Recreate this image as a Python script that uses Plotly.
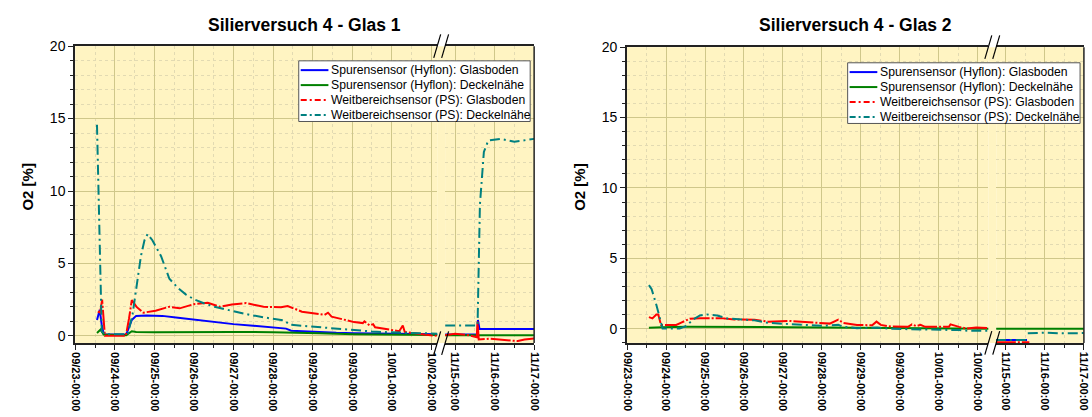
import pandas as pd
import plotly.graph_objects as go

W, H = 1092, 417

SERIES_NAMES = ["Spurensensor (Hyflon): Glasboden", "Spurensensor (Hyflon): Deckelnähe",
                "Weitbereichsensor (PS): Glasboden", "Weitbereichsensor (PS): Deckelnähe"]
COLORS = ["#0000FF", "#008000", "#FF0000", "#008080"]
DASHES = ["solid", "solid", "20px,2px,2px,2px", "10px,4px,2px,4px"]
LEGEND_DASHES = ["solid", "solid", "6px,3px,2px,3px", "6px,3px,2px,3px"]
TITLES = ["Silierversuch 4 - Glas 1", "Silierversuch 4 - Glas 2"]
Y_TITLE = "O2 [%]"
START1 = "2015-09-23"   # first axis segment starts 09/23-00:00
START2 = "2015-11-15"   # second axis segment reference 11/15-00:00

# ---------------- Glas 1 (days after START1 / START2) ----------------
g1_blue_d1 = [0.55, 0.62, 0.67, 0.72, 1.0, 1.29, 1.43, 1.54, 1.8, 2.2, 2.6, 3.0, 3.5, 4.0, 4.5, 5.0,
              5.33, 5.46, 5.8, 6.17, 6.6, 7.05, 7.5, 7.93, 8.5, 9.0, 9.25]
g1_blue_v1 = [1.1, 1.8, 0.77, 0.12, 0.1, 0.1, 1.1, 1.38, 1.4, 1.38, 1.25, 1.11, 0.96, 0.81, 0.7, 0.59,
              0.5, 0.36, 0.3, 0.25, 0.21, 0.18, 0.16, 0.14, 0.12, 0.11, 0.11]
g1_green_d1 = [0.55, 0.64, 0.72, 1.0, 1.29, 1.43, 1.54, 2.0, 3.0, 4.0, 5.0, 5.3, 6.17, 7.05, 7.93, 8.8, 9.25]
g1_green_v1 = [0.2, 0.43, 0.09, 0.05, 0.05, 0.32, 0.27, 0.25, 0.27, 0.27, 0.25, 0.24, 0.18, 0.12, 0.07, 0.05, 0.05]
g1_red_d1 = [0.57, 0.63, 0.68, 0.75, 1.0, 1.28, 1.36, 1.43, 1.55, 1.72, 2.03, 2.38, 2.64, 3.0, 3.35, 3.66,
             3.96, 4.32, 4.76, 5.2, 5.37, 5.73, 6.3, 6.39, 6.48, 7.05, 7.27, 7.31, 7.44, 7.53, 7.58, 7.93,
             8.19, 8.28, 8.33, 8.81, 9.25]
g1_red_v1 = [1.67, 1.6, 2.5, 0.0, 0.0, 0.0, 1.2, 2.47, 2.0, 1.6, 1.74, 2.01, 1.9, 2.19, 2.28, 2.01,
             2.17, 2.26, 2.01, 1.97, 2.06, 1.67, 1.45, 1.6, 1.33, 0.95, 0.88, 1.0, 0.72, 0.81, 0.59, 0.43,
             0.32, 0.72, 0.27, 0.09, -0.02]
g1_teal_d1 = [0.55, 0.67, 0.75, 1.0, 1.33, 1.45, 1.55, 1.66, 1.75, 1.83, 1.95, 2.17, 2.38, 2.6, 2.8, 3.0,
              3.25, 3.52, 4.0, 4.41, 4.9, 5.29, 5.42, 5.8, 6.17, 6.6, 7.05, 7.5, 7.93, 8.4, 8.81, 9.3]
g1_teal_v1 = [14.57, 0.3, 0.12, 0.12, 0.12, 1.5, 3.5, 5.5, 6.6, 7.03, 6.6, 5.5, 3.94, 3.3, 2.85, 2.53,
              2.25, 2.01, 1.7, 1.45, 1.22, 1.06, 0.77, 0.68, 0.59, 0.47, 0.36, 0.3, 0.25, 0.2, 0.14, 0.14]

g1_blue_d2 = [-0.25, 0.57, 0.58, 0.62, 1.0, 1.5, 2.0]
g1_blue_v2 = [0.09, 0.09, 1.1, 0.47, 0.47, 0.47, 0.47]
g1_green_d2 = [-0.25, 0.5, 1.0, 2.0]
g1_green_v2 = [0.05, 0.05, 0.05, 0.05]
g1_red_d2 = [-0.25, 0.0, 0.35, 0.55, 0.57, 0.6, 0.88, 1.32, 1.59, 1.76, 2.0]
g1_red_v2 = [0.05, 0.14, 0.05, -0.09, 1.0, -0.25, -0.2, -0.32, -0.36, -0.25, -0.18]
g1_teal_d2 = [-0.25, 0.57, 0.63, 0.73, 0.84, 1.15, 1.5, 1.76, 2.0]
g1_teal_v2 = [0.72, 0.72, 9.07, 12.7, 13.48, 13.6, 13.4, 13.5, 13.6]

# ---------------- Glas 2 ----------------
g2_blue_d1 = []
g2_blue_v1 = []
g2_green_d1 = [0.56, 0.91, 1.52, 2.5, 4.15, 5.9, 7.65, 9.3]
g2_green_v1 = [0.07, 0.12, 0.14, 0.14, 0.12, 0.07, 0.02, 0.0]
g2_red_d1 = [0.56, 0.65, 0.75, 0.8, 0.87, 0.93, 1.26, 1.39, 1.61, 1.87, 2.4, 2.75, 3.27, 3.62, 4.15, 4.67,
             5.2, 5.42, 5.55, 5.9, 6.29, 6.4, 6.51, 6.77, 7.21, 7.31, 7.42, 7.53, 7.65, 8.26, 8.3, 8.52,
             8.7, 8.96, 9.3]
g2_red_v1 = [0.83, 0.74, 1.02, 1.02, 0.28, 0.28, 0.28, 0.44, 0.72, 0.76, 0.76, 0.67, 0.65, 0.51, 0.56, 0.46,
             0.37, 0.65, 0.42, 0.28, 0.25, 0.51, 0.28, 0.16, 0.14, 0.32, 0.19, 0.28, 0.14, 0.14, 0.32, 0.14,
             0.02, 0.09, 0.05]
g2_teal_d1 = [0.56, 0.63, 0.75, 0.84, 0.91, 1.35, 1.52, 1.7, 1.87, 2.05, 2.31, 2.57, 2.92, 3.27, 3.62, 4.15,
              5.02, 5.42, 5.55, 5.9, 6.42, 6.77, 7.65, 8.52, 8.78, 9.3]
g2_teal_v1 = [3.1, 2.82, 1.71, 0.79, 0.02, 0.03, 0.21, 0.67, 0.95, 1.02, 0.95, 0.74, 0.65, 0.6, 0.42, 0.32,
              0.21, 0.28, 0.14, 0.05, 0.09, 0.0, -0.02, -0.09, -0.14, -0.14]

g2_blue_d2 = [-0.26, 0.54]
g2_blue_v2 = [-0.79, -0.79]
g2_green_d2 = [-0.26, 2.0]
g2_green_v2 = [0.0, 0.0]
g2_red_d2 = [-0.26, 0.6]
g2_red_v2 = [-0.95, -0.95]
g2_teal_d2 = [-0.26, 0.54, None, 0.56, 1.0, 1.44, 2.0]
g2_teal_v2 = [-0.79, -0.79, None, -0.32, -0.28, -0.32, -0.3]

PANELS = [
    dict(seg1=[(g1_blue_d1, g1_blue_v1), (g1_green_d1, g1_green_v1), (g1_red_d1, g1_red_v1), (g1_teal_d1, g1_teal_v1)],
         seg2=[(g1_blue_d2, g1_blue_v2), (g1_green_d2, g1_green_v2), (g1_red_d2, g1_red_v2), (g1_teal_d2, g1_teal_v2)],
         ymin=-0.5),
    dict(seg1=[(g2_blue_d1, g2_blue_v1), (g2_green_d1, g2_green_v1), (g2_red_d1, g2_red_v1), (g2_teal_d1, g2_teal_v1)],
         seg2=[(g2_blue_d2, g2_blue_v2), (g2_green_d2, g2_green_v2), (g2_red_d2, g2_red_v2), (g2_teal_d2, g2_teal_v2)],
         ymin=-1.0),
]

# ---------------- layout geometry (pixels) ----------------
GEOM = [
    dict(x0=70.0, ppd=40.0, end1=9.15, gap=8.0, start2=-0.25, end2=2.0, top=39.0, bottom=342.5,
         ytitle_x=22, leg_x0=296, leg_x1=530, leg_top=54),
    dict(x0=628.0, ppd=39.4, end1=9.27, gap=8.0, start2=-0.25, end2=2.0, top=40.0, bottom=342.3,
         ytitle_x=580, leg_x0=851, leg_x1=1086, leg_top=56),
]

BG = "#FFF4C2"
GRID_MAJOR = "#CFC78A"
GRID_MINOR = "#E2DAB2"
AXIS = "#222222"
FONT = "Liberation Sans, Arial, sans-serif"


def px(x):
    return x / W


def py(y):
    return 1 - y / H


def to_dates(base, days):
    b = pd.Timestamp(base)
    return [None if d is None else b + pd.Timedelta(days=d) for d in days]


fig = go.Figure()
layout = dict(width=W, height=H, margin=dict(l=0, r=0, t=0, b=0), paper_bgcolor="white",
              plot_bgcolor=BG, font=dict(family=FONT, color="black"), showlegend=False)
shapes, annotations = [], []

for p, (panel, g) in enumerate(zip(PANELS, GEOM)):
    xa1, xa2 = 2 * p + 1, 2 * p + 2
    ya = p + 1
    xn1 = "x" if xa1 == 1 else f"x{xa1}"
    xn2 = f"x{xa2}"
    yn = "y" if ya == 1 else f"y{ya}"
    ydom = [py(g["bottom"]), py(g["top"])]
    b1 = g["x0"] + g["end1"] * g["ppd"]
    b2 = b1 + g["gap"]
    x1 = b2 + (g["end2"] - g["start2"]) * g["ppd"]

    common_x = dict(type="date", dtick=86400000, tickformat="%m/%d-%H:%M", tickangle=90,
                    ticks="outside", ticklen=5, tickwidth=1, tickcolor=AXIS,
                    showline=True, linecolor=AXIS, linewidth=1.5, mirror=True,
                    showgrid=True, gridcolor=GRID_MAJOR, gridwidth=1,
                    minor=dict(dtick=43200000, ticks="outside", ticklen=3, tickcolor=AXIS,
                               showgrid=True, gridcolor=GRID_MINOR, griddash="dot", gridwidth=1),
                    tickfont=dict(family=FONT, size=11, color="black", weight="bold"),
                    anchor=yn, zeroline=False)
    s1 = pd.Timestamp(START1)
    s2 = pd.Timestamp(START2)
    layout["xaxis" if xa1 == 1 else f"xaxis{xa1}"] = dict(
        common_x, domain=[px(g["x0"]), px(b1)], tick0=START1,
        range=[s1, s1 + pd.Timedelta(days=g["end1"])])
    layout[f"xaxis{xa2}"] = dict(
        common_x, domain=[px(b2), min(1.0, px(x1))], tick0=START2,
        range=[s2 + pd.Timedelta(days=g["start2"]), s2 + pd.Timedelta(days=g["end2"] + 0.001)])
    layout["yaxis" if ya == 1 else f"yaxis{ya}"] = dict(
        domain=ydom, anchor=xn1, range=[panel["ymin"], 20], dtick=5, tick0=0,
        ticks="outside", ticklen=5, tickcolor=AXIS, showline=True, linecolor=AXIS, linewidth=2,
        showgrid=True, gridcolor=GRID_MAJOR, gridwidth=1, zeroline=True, zerolinecolor=GRID_MAJOR,
        zerolinewidth=1,
        minor=dict(dtick=1, ticks="outside", ticklen=3, tickcolor=AXIS, showgrid=True,
                   gridcolor=GRID_MINOR, griddash="dot", gridwidth=1),
        tickfont=dict(family=FONT, size=14, color="black"))

    for i in range(4):
        d1, v1 = panel["seg1"][i]
        d2, v2 = panel["seg2"][i]
        line = dict(color=COLORS[i], width=2, dash=DASHES[i])
        if len(d1) > 0:
            fig.add_trace(go.Scatter(x=to_dates(START1, d1), y=v1, mode="lines", line=line,
                                     name=SERIES_NAMES[i], xaxis=xn1, yaxis=yn, connectgaps=False))
        fig.add_trace(go.Scatter(x=to_dates(START2, d2), y=v2, mode="lines", line=line,
                                 name=SERIES_NAMES[i], xaxis=xn2, yaxis=yn, connectgaps=False))

    # legend box (drawn inside the plot, top right)
    lx0, lx1, lt = g["leg_x0"], g["leg_x1"], g["leg_top"]
    shapes.append(dict(type="rect", xref="paper", yref="paper", x0=px(lx0), x1=px(lx1),
                       y0=py(lt + 62), y1=py(lt), fillcolor="white",
                       line=dict(color="#555555", width=1)))
    for i, name in enumerate(SERIES_NAMES):
        ry = lt + 9.5 + 15.3 * i
        shapes.append(dict(type="line", xref="paper", yref="paper", x0=px(lx0 + 2), x1=px(lx0 + 30),
                           y0=py(ry), y1=py(ry), line=dict(color=COLORS[i], width=2, dash=LEGEND_DASHES[i])))
        annotations.append(dict(text=name, xref="paper", yref="paper", x=px(lx0 + 31), y=py(ry),
                                xanchor="left", yanchor="middle", showarrow=False,
                                font=dict(family=FONT, size=12.2, color="black")))

    # background fill across the axis break
    shapes.append(dict(type="rect", xref="paper", yref="paper", x0=px(b1), x1=px(b2),
                       y0=ydom[0], y1=ydom[1], fillcolor=BG, line=dict(width=0), layer="below"))
    # right frame line
    xr = min(x1, W - 1)
    shapes.append(dict(type="line", xref="paper", yref="paper", x0=px(xr), x1=px(xr),
                       y0=ydom[0], y1=ydom[1], line=dict(color=AXIS, width=1.5)))
    # break marks (top and bottom)
    cx = (b1 + b2) / 2
    for cy in (g["top"], g["bottom"]):
        for off in (-4, 4):
            shapes.append(dict(type="line", xref="paper", yref="paper",
                               x0=px(cx + off - 3.5), y0=py(cy + 12), x1=px(cx + off + 3.5), y1=py(cy - 12),
                               line=dict(color="black", width=1.2)))

    annotations.append(dict(text=TITLES[p], xref="paper", yref="paper", x=px((g["x0"] + xr) / 2), y=py(17),
                            xanchor="center", yanchor="middle", showarrow=False,
                            font=dict(family=FONT, size=17.5, color="black", weight="bold")))
    annotations.append(dict(text=Y_TITLE, xref="paper", yref="paper", x=px(g["ytitle_x"]),
                            y=py((g["top"] + g["bottom"]) / 2 - 8), textangle=-90,
                            xanchor="center", yanchor="middle", showarrow=False,
                            font=dict(family=FONT, size=15, color="black", weight="bold")))

layout["shapes"] = shapes
layout["annotations"] = annotations
fig.update_layout(**layout)
fig.write_html("out.html")
